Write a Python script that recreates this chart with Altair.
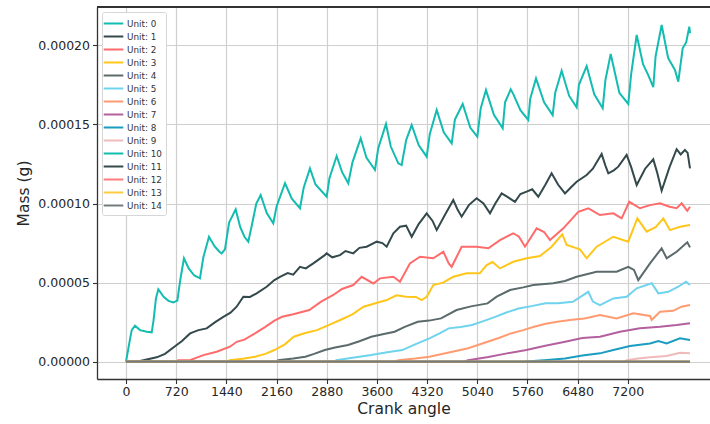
import altair as alt
import pandas as pd

# Crank angle (deg) and accumulated mass (x1e-5 g) for each unit
unit0_angle = [0, 47, 82, 129, 201, 300, 369, 395, 430, 464, 540, 610, 679, 737, 780, 832, 900, 980, 1062,
               1110, 1191, 1270, 1340, 1373, 1420, 1480, 1574, 1640, 1700, 1755, 1800, 1870, 1933, 2020,
               2114, 2160, 2282, 2380, 2497, 2550, 2640, 2720, 2880, 2920, 3023, 3100, 3190, 3250, 3368,
               3450, 3573, 3620, 3731, 3800, 3908, 3956, 4020, 4100, 4200, 4315, 4360, 4459, 4560, 4674,
               4720, 4832, 4940, 5042, 5090, 5166, 5280, 5406, 5440, 5490, 5521, 5560, 5660, 5773, 5800,
               5884, 6000, 6123, 6160, 6252, 6360, 6467, 6500, 6611, 6720, 6841, 6880, 6956, 7080, 7208,
               7250, 7329, 7420, 7495, 7567, 7600, 7687, 7780, 7878, 7926, 7989, 8040, 8084, 8094]
unit0_mass = [0, 1.16, 2.0, 2.28, 2.0, 1.9, 1.86, 2.6, 4.0, 4.58, 4.1, 3.85, 3.75, 3.86, 5.2, 6.54, 5.9, 5.45,
              5.27, 6.6, 7.9, 7.3, 6.95, 6.85, 7.1, 8.8, 9.63, 8.5, 7.9, 7.59, 8.5, 10.0, 10.54, 9.4, 8.75,
              9.8, 11.28, 10.3, 9.7, 11.0, 12.22, 11.2, 10.43, 11.6, 13.0, 12.0, 11.28, 12.6, 14.12, 12.9,
              12.12, 13.5, 15.03, 13.6, 12.54, 12.43, 14.0, 14.96, 13.7, 12.96, 14.4, 15.91, 14.5, 13.8,
              15.3, 16.29, 14.8, 14.22, 16.0, 17.17, 15.6, 14.75, 16.4, 16.9, 17.22, 16.9, 15.9, 15.28,
              16.6, 17.91, 16.4, 15.59, 17.0, 18.39, 16.8, 16.08, 17.5, 18.69, 16.9, 16.02, 17.8, 19.45,
              17.0, 16.29, 18.2, 20.65, 18.8, 18.12, 17.35, 19.3, 21.28, 19.2, 18.44, 17.7, 19.81, 20.2,
              21.18, 20.76]

unit1_angle = [0, 150, 250, 440, 560, 727, 800, 920, 1040, 1158, 1280, 1397, 1500, 1588, 1684, 1780, 1875,
               2019, 2130, 2210, 2320, 2400, 2497, 2580, 2688, 2853, 2880, 2960, 3071, 3150, 3262, 3350,
               3454, 3598, 3680, 3741, 3837, 3932, 4020, 4100, 4200, 4315, 4400, 4459, 4580, 4697, 4760,
               4817, 4920, 5032, 5130, 5224, 5300, 5391, 5480, 5582, 5660, 5750, 5830, 5917, 6020, 6108,
               6200, 6300, 6380, 6467, 6611, 6700, 6826, 6880, 6922, 7000, 7065, 7185, 7250, 7329, 7450,
               7567, 7620, 7687, 7800, 7902, 7960, 8021, 8060, 8094]
unit1_mass = [0, 0, 0.1, 0.28, 0.5, 1.06, 1.3, 1.79, 2.0, 2.11, 2.5, 2.84, 3.1, 3.48, 4.11, 4.1, 4.32, 4.74,
              5.16, 5.37, 5.6, 5.5, 6.0, 5.9, 6.22, 6.74, 6.85, 6.6, 6.74, 7.0, 6.85, 7.2, 7.27, 7.59, 7.5,
              7.27, 8.12, 8.53, 8.6, 7.9, 8.7, 9.38, 8.9, 8.32, 9.3, 10.22, 9.6, 9.17, 9.9, 10.33, 10.0,
              9.38, 10.0, 10.64, 10.4, 10.11, 10.6, 10.75, 10.9, 10.43, 11.2, 11.91, 11.2, 10.64, 11.0,
              11.38, 11.8, 12.2, 13.13, 12.4, 11.91, 12.1, 12.33, 13.07, 12.3, 11.17, 12.2, 12.79, 12.0,
              10.81, 12.3, 13.43, 13.1, 13.38, 13.2, 12.22]

unit2_angle = [0, 720, 750, 918, 1110, 1301, 1493, 1588, 1700, 1851, 2000, 2130, 2241, 2400, 2631, 2800,
               2975, 3100, 3262, 3382, 3550, 3645, 3837, 3932, 4075, 4219, 4410, 4554, 4632, 4674, 4817,
               5032, 5200, 5367, 5558, 5640, 5726, 5893, 6000, 6085, 6276, 6491, 6635, 6802, 6994, 7113,
               7222, 7376, 7520, 7663, 7800, 7902, 7974, 8055, 8094]
unit2_mass = [0, 0, 0.1, 0.1, 0.42, 0.63, 0.95, 1.26, 1.4, 1.79, 2.2, 2.6, 2.84, 3.0, 3.27, 3.8, 4.22, 4.6,
              4.85, 5.37, 4.95, 5.27, 5.37, 5.06, 6.22, 6.64, 6.54, 6.95, 6.22, 6.0, 7.27, 7.27, 7.17,
              7.69, 8.12, 7.9, 7.27, 8.43, 8.2, 7.69, 8.43, 9.48, 9.7, 9.27, 9.38, 9.06, 10.11, 9.7, 9.9,
              10.01, 9.8, 9.7, 10.01, 9.54, 9.8]

unit3_angle = [0, 1440, 1490, 1700, 1851, 2000, 2130, 2280, 2408, 2560, 2741, 2900, 3075, 3250, 3410, 3580,
               3742, 3880, 4021, 4160, 4243, 4315, 4410, 4550, 4697, 4889, 5077, 5176, 5260, 5367, 5558,
               5750, 5941, 6108, 6261, 6324, 6515, 6611, 6754, 6994, 7208, 7338, 7472, 7600, 7711, 7807,
               7950, 8094]
unit3_mass = [0, 0, 0.1, 0.2, 0.32, 0.5, 0.74, 1.1, 1.58, 1.8, 2.0, 2.3, 2.64, 3.0, 3.48, 3.7, 3.9, 4.2,
              4.11, 4.1, 3.9, 4.11, 4.85, 5.0, 5.37, 5.59, 5.59, 6.11, 6.3, 5.9, 6.32, 6.54, 6.68, 7.27,
              8.05, 7.38, 7.1, 6.54, 7.27, 7.9, 7.59, 9.06, 8.22, 8.5, 9.06, 8.32, 8.53, 8.64]

unit4_angle = [0, 2160, 2185, 2400, 2574, 2700, 2853, 3000, 3187, 3350, 3520, 3700, 3855, 4000, 4188, 4350,
               4521, 4744, 4950, 5189, 5320, 5510, 5700, 5845, 6132, 6300, 6467, 6754, 7041, 7208, 7290,
               7352, 7520, 7687, 7759, 7902, 8055, 8094]
unit4_mass = [0, 0, 0.1, 0.2, 0.32, 0.5, 0.74, 0.9, 1.06, 1.3, 1.58, 1.75, 1.9, 2.2, 2.53, 2.6, 2.74, 3.27,
              3.5, 3.69, 4.11, 4.53, 4.7, 4.85, 4.96, 5.1, 5.37, 5.69, 5.69, 6.0, 5.8, 5.16, 6.22, 7.17,
              6.54, 6.95, 7.55, 7.23]

unit5_angle = [0, 3000, 3019, 3250, 3520, 3750, 3965, 4150, 4355, 4500, 4632, 4800, 4966, 5150, 5299, 5450,
               5634, 5800, 6023, 6200, 6413, 6635, 6700, 6802, 6994, 7185, 7329, 7544, 7640, 7783, 7926,
               8036, 8094]
unit5_mass = [0, 0, 0.1, 0.25, 0.42, 0.6, 0.74, 1.1, 1.48, 1.8, 2.11, 2.2, 2.32, 2.6, 2.84, 3.1, 3.37, 3.5,
              3.69, 3.7, 3.79, 4.42, 3.8, 3.58, 4.0, 4.11, 4.64, 4.96, 4.32, 4.42, 4.74, 5.06, 4.85]

unit6_angle = [0, 3850, 3909, 4150, 4355, 4650, 4910, 5189, 5350, 5523, 5700, 5856, 6023, 6190, 6400, 6580,
               6802, 7041, 7280, 7520, 7544, 7663, 7854, 7970, 8094]
unit6_mass = [0, 0, 0.1, 0.2, 0.32, 0.6, 0.85, 1.26, 1.5, 1.79, 2.0, 2.21, 2.4, 2.53, 2.65, 2.74, 2.95,
              2.74, 3.06, 2.89, 2.64, 3.16, 3.22, 3.48, 3.58]

unit7_angle = [0, 4850, 4910, 5200, 5467, 5746, 6000, 6301, 6550, 6802, 7089, 7376, 7663, 7902, 8094]
unit7_mass = [0, 0, 0.1, 0.3, 0.53, 0.74, 1.0, 1.26, 1.5, 1.58, 1.9, 2.11, 2.21, 2.32, 2.43]

unit8_angle = [0, 5700, 5746, 6000, 6301, 6550, 6802, 6994, 7233, 7520, 7640, 7759, 7950, 8094]
unit8_mass = [0, 0, 0.02, 0.1, 0.21, 0.4, 0.53, 0.74, 0.99, 1.16, 1.31, 1.16, 1.48, 1.37]

unit9_angle = [0, 7150, 7185, 7350, 7520, 7759, 7950, 8094]
unit9_mass = [0, 0, 0.1, 0.2, 0.28, 0.36, 0.57, 0.53]

# units 10-14 stay at zero over the whole run
flat_angle = [0, 8094]
flat_mass = [0, 0]

series = [
    (unit0_angle, unit0_mass), (unit1_angle, unit1_mass), (unit2_angle, unit2_mass),
    (unit3_angle, unit3_mass), (unit4_angle, unit4_mass), (unit5_angle, unit5_mass),
    (unit6_angle, unit6_mass), (unit7_angle, unit7_mass), (unit8_angle, unit8_mass),
    (unit9_angle, unit9_mass),
    (flat_angle, flat_mass), (flat_angle, flat_mass), (flat_angle, flat_mass),
    (flat_angle, flat_mass), (flat_angle, flat_mass),
]

unit_colors = ["#12bcb0", "#34494b", "#ff6b6b", "#ffc61a", "#5b6a6b", "#6fd3ee", "#ff9b70",
               "#b4609f", "#1a9dc0", "#f0baba", "#12bcb0", "#34494b", "#ff7b7b", "#ffcb40", "#737d7e"]
x_ticks = [0, 720, 1440, 2160, 2880, 3600, 4320, 5040, 5760, 6480, 7200]
y_ticks = [0.0, 0.00005, 0.0001, 0.00015, 0.0002]

rows = []
for i, (ang, mass) in enumerate(series):
    for a, m in zip(ang, mass):
        rows.append({"unit": f"Unit: {i}", "idx": i, "angle": a, "mass": m * 1e-5})
df = pd.DataFrame(rows)
labels = [f"Unit: {i}" for i in range(len(series))]

W, H = 613, 372
font = "DejaVu Sans"

lines = alt.Chart(df).mark_line(strokeWidth=2, clip=True).encode(
    x=alt.X("angle:Q", title="Crank angle",
            scale=alt.Scale(domain=[-416, 8381], nice=False, zero=False),
            axis=alt.Axis(values=x_ticks, format="d", labelFlush=False, labelPadding=2,
                          titlePadding=3)),
    y=alt.Y("mass:Q", title="Mass (g)",
            scale=alt.Scale(domain=[-0.0000109, 0.0002242], nice=False, zero=False),
            axis=alt.Axis(values=y_ticks, format=".5f", labelFlush=False, titlePadding=6)),
    color=alt.Color("unit:N", sort=labels,
                    scale=alt.Scale(domain=labels, range=unit_colors),
                    legend=alt.Legend(title=None, orient="top-left", offset=5)),
    detail="idx:O",
    order="angle:Q",
)

top_spine = alt.Chart(df).mark_rule(color="#333333", strokeWidth=1.3).encode(
    x=alt.value(0), x2=alt.value(W), y=alt.value(0)
)

chart = alt.layer(lines, top_spine).properties(
    width=W, height=H,
    autosize=alt.AutoSizeParams(type="none"),
    padding={"left": 97, "top": 7, "right": 0, "bottom": 45},
    background="white",
).configure_view(stroke=None).configure_axis(
    labelFont=font, titleFont=font, labelFontSize=12.5, titleFontSize=15.5,
    titleFontWeight="normal", labelColor="#262626", titleColor="#262626",
    domainColor="#333333", domainWidth=1.3, tickColor="#333333", tickWidth=1.1,
    tickSize=4.5, labelPadding=3, gridColor="#cfcfcf", gridWidth=1.2,
).configure_legend(
    labelFont=font, labelFontSize=8.8, labelColor="#333333",
    symbolType="M-1.6,0H1.6", symbolSize=150, symbolStrokeWidth=2,
    strokeColor="#d6d6d6", fillColor="white", padding=4, cornerRadius=2,
    rowPadding=0, labelOffset=6,
)

chart.save("out.html", embed_options={"renderer": "svg", "actions": False})
